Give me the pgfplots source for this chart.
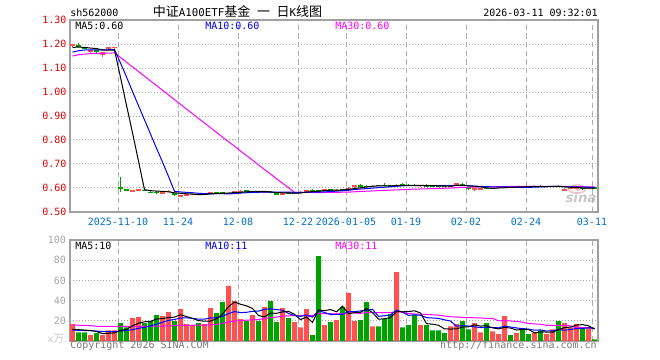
\documentclass[border=0pt]{standalone}
\usepackage{fontspec}
\setmainfont{DejaVu Sans Mono}
\newfontfamily\cjk{Noto Sans CJK SC}
\newfontfamily\sinaf{DejaVu Sans}
\usepackage{pgfplots}
\usepackage{pgfplotstable}
\pgfplotsset{compat=1.18}
\definecolor{cred}{RGB}{252,82,82}
\definecolor{cgreen}{RGB}{0,162,0}
\definecolor{mablue}{RGB}{0,0,255}
\definecolor{mamag}{RGB}{255,0,255}
\definecolor{framec}{RGB}{160,160,160}
\definecolor{dashc}{RGB}{175,175,175}
\definecolor{dotc}{RGB}{165,165,165}
\definecolor{datec}{RGB}{0,112,200}
\definecolor{tickred}{RGB}{228,0,0}
\definecolor{volgray}{RGB}{165,165,165}
\definecolor{copyc}{RGB}{120,120,120}
\definecolor{wm}{RGB}{200,200,200}
\definecolor{wmeye}{RGB}{228,196,196}
\newcommand\fs{\fontsize{7.5pt}{9pt}\selectfont}

% up (red) candles: index open high low close volume
\pgfplotstableread{
i o h l c v
0 1.190 1.201 1.188 1.198 16.6
3 1.170 1.173 1.162 1.172 5.7
5 1.155 1.168 1.146 1.166 5.7
6 1.178 1.188 1.176 1.186 10.6
7 1.186 1.188 1.170 1.187 10.6
10 0.589 0.590 0.585 0.590 22.6
11 0.591 0.597 0.589 0.596 23.6
15 0.580 0.583 0.578 0.581 24.6
16 0.584 0.592 0.583 0.588 28.6
18 0.565 0.572 0.563 0.570 31.6
19 0.570 0.575 0.568 0.573 16.6
20 0.572 0.576 0.570 0.574 15.6
22 0.573 0.577 0.572 0.575 16.6
23 0.576 0.583 0.575 0.582 32.6
26 0.577 0.581 0.576 0.578 54.6
27 0.580 0.587 0.579 0.586 39.6
28 0.585 0.590 0.583 0.589 21.6
30 0.583 0.587 0.582 0.585 25.6
32 0.582 0.585 0.581 0.583 33.6
35 0.571 0.579 0.569 0.578 32.6
37 0.580 0.582 0.579 0.581 18.6
38 0.581 0.586 0.580 0.585 13.6
39 0.586 0.592 0.585 0.591 31.6
42 0.588 0.596 0.587 0.594 15.6
44 0.590 0.594 0.589 0.593 20.6
46 0.594 0.603 0.593 0.601 47.6
47 0.603 0.613 0.602 0.611 19.6
50 0.606 0.611 0.605 0.610 14.6
54 0.609 0.616 0.608 0.614 68.2
58 0.610 0.612 0.608 0.611 15.6
63 0.607 0.611 0.606 0.610 14.6
64 0.611 0.621 0.610 0.620 16.6
67 0.593 0.600 0.588 0.599 17.6
68 0.597 0.601 0.596 0.598 8.6
70 0.598 0.601 0.597 0.600 9.6
71 0.601 0.605 0.600 0.604 6.7
72 0.602 0.608 0.601 0.607 24.6
74 0.605 0.607 0.604 0.606 7.7
77 0.605 0.614 0.604 0.608 7.7
79 0.606 0.608 0.605 0.607 6.7
80 0.606 0.610 0.605 0.609 11.6
82 0.590 0.599 0.587 0.596 17.6
83 0.596 0.603 0.594 0.600 13.6
84 0.598 0.604 0.597 0.603 16.6
86 0.597 0.602 0.596 0.601 13.6
}\upd

% down (green) candles
\pgfplotstableread{
i o h l c v
1 1.197 1.205 1.189 1.190 8.6
2 1.186 1.188 1.178 1.179 8.6
4 1.175 1.177 1.158 1.166 7.7
8 0.605 0.645 0.585 0.598 17.6
9 0.596 0.597 0.588 0.590 13.6
12 0.591 0.592 0.588 0.589 17.6
13 0.584 0.587 0.578 0.582 19.6
14 0.584 0.587 0.577 0.580 25.6
17 0.578 0.580 0.567 0.569 19.6
21 0.575 0.576 0.572 0.573 17.6
24 0.581 0.583 0.578 0.580 27.6
25 0.580 0.582 0.577 0.579 38.6
29 0.589 0.591 0.584 0.587 19.6
31 0.585 0.587 0.583 0.584 19.6
33 0.584 0.586 0.580 0.582 39.6
34 0.579 0.580 0.570 0.572 18.6
36 0.581 0.582 0.578 0.580 22.6
40 0.591 0.594 0.587 0.589 5.7
41 0.590 0.591 0.587 0.588 84.0
43 0.594 0.595 0.590 0.591 18.6
45 0.593 0.594 0.590 0.592 33.6
48 0.611 0.617 0.604 0.608 20.6
49 0.609 0.611 0.606 0.607 38.6
51 0.612 0.614 0.608 0.609 14.6
52 0.612 0.620 0.608 0.610 21.6
53 0.611 0.613 0.607 0.609 26.6
55 0.614 0.620 0.609 0.611 13.6
56 0.612 0.617 0.609 0.611 15.6
57 0.612 0.615 0.609 0.610 25.6
59 0.611 0.615 0.607 0.609 15.6
60 0.610 0.613 0.607 0.608 10.6
61 0.609 0.611 0.606 0.608 10.6
62 0.609 0.611 0.605 0.607 7.7
65 0.618 0.619 0.608 0.611 19.6
66 0.604 0.606 0.592 0.597 11.6
69 0.600 0.604 0.596 0.598 17.6
73 0.606 0.607 0.604 0.605 5.7
75 0.607 0.608 0.603 0.605 12.6
76 0.606 0.607 0.603 0.604 6.7
78 0.609 0.611 0.605 0.607 10.6
81 0.609 0.611 0.604 0.605 19.6
85 0.602 0.603 0.590 0.596 13.6
87 0.601 0.602 0.599 0.600 1.7
}\dnd

% moving averages: price MA5 MA10 MA30, volume MA5 MA10 MA30
\pgfplotstableread{
i pm5 pm10 pm30 vm5 vm10 vm30
0 1.186 1.166 1.150 11.6 10.8 15.6
1 1.187 1.172 1.155 11.2 10.6 15.6
2 1.186 1.175 1.158 10.8 10.4 15.5
3 1.183 1.176 1.160 10.4 10.2 15.2
4 1.181 1.176 1.161 9.44 9.8 14.6
5 1.175 1.175 1.161 7.26 9.4 14.5
6 1.174 1.176 1.162 7.66 9.2 14.5
7 1.175 1.177 1.163 8.06 9.4 14.4
8 1.061 1.121 1.144 10.44 9.8 14.4
9 0.945 1.063 1.124 11.62 10.53 14.4
10 0.830 1.002 1.105 15.0 11.13 14.5
11 0.712 0.943 1.085 17.6 12.63 14.5
12 0.593 0.884 1.066 19.0 13.53 14.6
13 0.589 0.825 1.046 19.4 14.92 14.6
14 0.587 0.766 1.027 21.8 16.71 14.7
15 0.586 0.708 1.007 22.2 18.6 14.8
16 0.584 0.648 0.988 23.2 20.4 14.9
17 0.580 0.586 0.968 23.6 21.3 15.2
18 0.578 0.5835 0.949 26.0 22.7 15.5
19 0.576 0.5818 0.929 24.2 23.0 15.5
20 0.575 0.5802 0.910 22.4 22.3 15.6
21 0.572 0.5779 0.890 20.2 21.7 15.6
22 0.573 0.5765 0.871 19.6 21.6 15.7
23 0.575 0.5765 0.851 19.8 22.9 16.0
24 0.577 0.5765 0.832 22.0 23.1 16.4
25 0.578 0.5763 0.812 26.6 24.5 17.4
26 0.579 0.5753 0.793 34.0 27.1 19.0
27 0.581 0.5770 0.774 38.6 29.1 19.8
28 0.582 0.5789 0.754 36.4 28.1 20.1
29 0.584 0.5803 0.735 34.8 28.4 20.64
30 0.585 0.5814 0.716 32.2 29.4 20.94
31 0.586 0.5825 0.696 25.2 29.6 21.31
32 0.586 0.5833 0.677 24.0 31.3 22.14
33 0.584 0.5833 0.658 27.6 32.0 23.27
34 0.581 0.5825 0.639 27.4 31.1 23.64
35 0.580 0.5824 0.620 28.8 30.5 24.53
36 0.579 0.5826 0.601 29.4 27.3 24.93
37 0.579 0.5821 0.582 26.4 25.2 25.2
38 0.579 0.5817 0.5814 21.2 24.4 25.07
39 0.583 0.5821 0.5814 23.8 25.6 25.67
40 0.585 0.5825 0.5814 18.42 23.61 25.1
41 0.587 0.5829 0.5811 30.7 30.05 27.12
42 0.589 0.5840 0.5813 30.1 28.25 27.05
43 0.591 0.5849 0.5816 31.1 26.15 27.02
44 0.591 0.5870 0.5820 28.9 26.35 26.85
45 0.592 0.5884 0.5824 34.48 26.45 27.15
46 0.594 0.5905 0.5828 27.2 28.95 27.78
47 0.598 0.5935 0.5842 28.0 29.05 27.78
48 0.601 0.5958 0.5855 28.4 29.75 27.42
49 0.604 0.5974 0.5866 32.0 30.45 28.15
50 0.607 0.5995 0.5878 28.2 31.34 28.12
51 0.609 0.6016 0.5890 21.6 24.4 28.02
52 0.609 0.6032 0.5902 22.0 25.0 28.18
53 0.609 0.6050 0.5911 23.2 25.8 27.98
54 0.610 0.6071 0.5922 29.12 30.56 29.34
55 0.611 0.6090 0.5933 28.92 28.56 28.5
56 0.611 0.6100 0.5944 29.12 25.36 27.2
57 0.611 0.6099 0.5952 29.92 25.96 26.74
58 0.611 0.6102 0.5959 27.72 25.46 26.54
59 0.610 0.6104 0.5966 17.2 23.16 26.4
60 0.610 0.6102 0.5974 16.6 22.76 25.9
61 0.609 0.6101 0.5982 15.6 22.36 25.6
62 0.609 0.6098 0.5990 12.02 20.97 24.74
63 0.608 0.6099 0.5999 11.82 19.77 23.91
64 0.611 0.6105 0.6015 12.02 14.61 23.84
65 0.611 0.6105 0.6026 13.82 15.21 23.41
66 0.609 0.6091 0.6032 14.02 14.81 23.04
67 0.607 0.6080 0.6038 16.0 14.01 23.01
68 0.605 0.6067 0.6042 14.8 13.31 22.84
69 0.601 0.6056 0.6045 15.0 13.51 22.37
70 0.598 0.6048 0.6048 13.0 13.41 22.5
71 0.600 0.6044 0.6054 12.02 13.02 19.93
72 0.601 0.6044 0.6058 13.42 14.71 20.23
73 0.603 0.6039 0.6063 12.84 13.82 19.8
74 0.604 0.6025 0.6067 10.86 12.93 19.37
75 0.605 0.6019 0.6071 11.46 12.23 18.67
76 0.605 0.6026 0.6072 11.46 11.74 17.3
77 0.606 0.6035 0.6071 8.08 10.75 16.91
78 0.606 0.6044 0.6071 9.06 10.95 16.57
79 0.606 0.6053 0.6071 8.86 9.86 15.51
80 0.607 0.6062 0.6071 8.66 10.06 15.41
81 0.607 0.6063 0.6069 11.24 11.35 15.58
82 0.605 0.6052 0.6065 13.22 10.65 15.44
83 0.603 0.6047 0.6062 13.82 11.44 15.01
84 0.603 0.6044 0.6058 15.8 12.33 13.29
85 0.600 0.6035 0.6053 16.2 12.43 13.29
86 0.599 0.6032 0.6050 15.0 13.12 13.22
87 0.600 0.6024 0.6046 11.82 12.52 12.43
}\ma

\pgfplotsset{
  kbase/.style={
    scale only axis, width=396pt,
    xmin=-0.41667, xmax=87.58333,
    axis line style={draw=framec, line width=1pt},
    major tick length=0pt,
    xtick={7.58333,17.58333,27.58333,37.58333,45.58333,55.58333,65.58333,75.58333,86.58333},
    xmajorgrids, ymajorgrids,
    x grid style={draw=dashc, line width=0.75pt, dash pattern=on 4pt off 2.5pt},
    y grid style={draw=dotc, line width=0.75pt, dash pattern=on 0.75pt off 1.5pt},
    tick label style={font=\fs},
    yticklabel style={anchor=east, inner sep=0pt, xshift=-2.5pt},
  },
  wick/.style={draw=none, mark=none, error bars/.cd, y dir=both, y explicit, error mark=none,
    error bar style={line width=0.75pt, draw=#1, solid}},
  body/.style={draw=none, mark=none, error bars/.cd, y dir=both, y explicit, error mark=none,
    error bar style={line width=3.75pt, draw=#1, solid}},
}

\begin{document}
\begin{tikzpicture}
\path[use as bounding box] (0pt,0pt) rectangle (495pt,270pt);

% watermark (sina logo)
\draw[wmeye, line width=1.1pt] (432.75pt,128.25pt) ellipse (6.5pt and 3pt);
\fill[wmeye] (433.5pt,128.25pt) circle (1.6pt);
\node[anchor=base, text=wm, inner sep=0pt] at (435.75pt,117.75pt) {\sinaf\bfseries\itshape\fontsize{10pt}{10pt}\selectfont sina};

% ---------- price panel ----------
\begin{axis}[kbase, at={(52.5pt,111pt)}, anchor=south west, height=144pt,
  ymin=0.5, ymax=1.3,
  ytick={0.5,0.6,0.7,0.8,0.9,1.0,1.1,1.2,1.3},
  yticklabels={0.50,0.60,0.70,0.80,0.90,1.00,1.10,1.20,1.30},
  yticklabel style={text=tickred},
  xticklabels={2025-11-10,11-24,12-08,12-22,2026-01-05,01-19,02-02,02-24,03-11},
  xticklabel style={anchor=base, inner sep=0pt, yshift=-10pt, text=datec},
]
\addplot[wick=cred] table[x=i, y expr={(\thisrow{h}+\thisrow{l})/2}, y error expr={(\thisrow{h}-\thisrow{l})/2}] {\upd};
\addplot[wick=cgreen] table[x=i, y expr={(\thisrow{h}+\thisrow{l})/2}, y error expr={(\thisrow{h}-\thisrow{l})/2}] {\dnd};
\addplot[body=cred] table[x=i, y expr={(\thisrow{o}+\thisrow{c})/2}, y error expr={max(abs(\thisrow{c}-\thisrow{o})/2,0.0021)}] {\upd};
\addplot[body=cgreen] table[x=i, y expr={(\thisrow{o}+\thisrow{c})/2}, y error expr={max(abs(\thisrow{c}-\thisrow{o})/2,0.0021)}] {\dnd};
\addplot[mamag, line width=0.75pt, mark=none] table[x=i, y=pm30] {\ma};
\addplot[mablue, line width=0.75pt, mark=none] table[x=i, y=pm10] {\ma};
\addplot[black, line width=0.75pt, mark=none] table[x=i, y=pm5] {\ma};
\end{axis}

% ---------- volume panel ----------
\begin{axis}[kbase, at={(52.5pt,14.25pt)}, anchor=south west, height=75.75pt,
  ymin=0, ymax=100,
  ytick={20,40,60,80,100},
  yticklabels={20,40,60,80,100},
  yticklabel style={text=volgray, xshift=-0.4pt},
  xticklabels={},
]
\addplot[ybar, bar width=3.75pt, bar shift=0pt, fill=cred, draw=none] table[x=i, y=v] {\upd};
\addplot[ybar, bar width=3.75pt, bar shift=0pt, fill=cgreen, draw=none] table[x=i, y=v] {\dnd};
\addplot[mamag, line width=0.75pt, mark=none] table[x=i, y=vm30] {\ma};
\addplot[mablue, line width=0.75pt, mark=none] table[x=i, y=vm10] {\ma};
\addplot[black, line width=0.75pt, mark=none] table[x=i, y=vm5] {\ma};
\end{axis}

% ---------- texts ----------
\node[anchor=base west, inner sep=0pt] at (52.5pt,257.25pt) {\fs sh562000};
\node[anchor=base, inner sep=0pt] at (178.125pt,257.25pt) {{\cjk\fontsize{9.75pt}{11pt}\selectfont 中证}{\fontsize{8.1pt}{10pt}\selectfont A100ETF}{\cjk\fontsize{9.75pt}{11pt}\selectfont 基金}\hspace{4.9pt}{\cjk\fontsize{9.75pt}{11pt}\selectfont 一}\hspace{4.9pt}{\cjk\fontsize{9.75pt}{11pt}\selectfont 日}{\fontsize{8.1pt}{10pt}\selectfont K}{\cjk\fontsize{9.75pt}{11pt}\selectfont 线图}};
\node[anchor=base east, inner sep=0pt] at (448.5pt,257.25pt) {\fs 2026-03-11 09:32:01};

\node[anchor=base west, inner sep=0pt] at (56.25pt,248.025pt) {\fs MA5:0.60};
\node[anchor=base west, inner sep=0pt, text=mablue] at (153.75pt,248.025pt) {\fs MA10:0.60};
\node[anchor=base west, inner sep=0pt, text=mamag] at (251.25pt,248.025pt) {\fs MA30:0.60};

\node[anchor=base west, inner sep=0pt] at (56.25pt,82.5pt) {\fs MA5:10};
\node[anchor=base west, inner sep=0pt, text=mablue] at (153.75pt,82.5pt) {\fs MA10:11};
\node[anchor=base west, inner sep=0pt, text=mamag] at (251.25pt,82.5pt) {\fs MA30:11};

\node[inner sep=0pt, text=wm] at (42pt,15.75pt) {{\fs x}{\cjk\fontsize{8pt}{9pt}\selectfont 万}};
\node[anchor=base west, inner sep=0pt, text=copyc] at (52.5pt,8.25pt) {\fs Copyright 2026 SINA.COM};
\node[anchor=base east, inner sep=0pt, text=copyc] at (447.75pt,8.25pt) {\fs http://finance.sina.com.cn};
\end{tikzpicture}
\end{document}
